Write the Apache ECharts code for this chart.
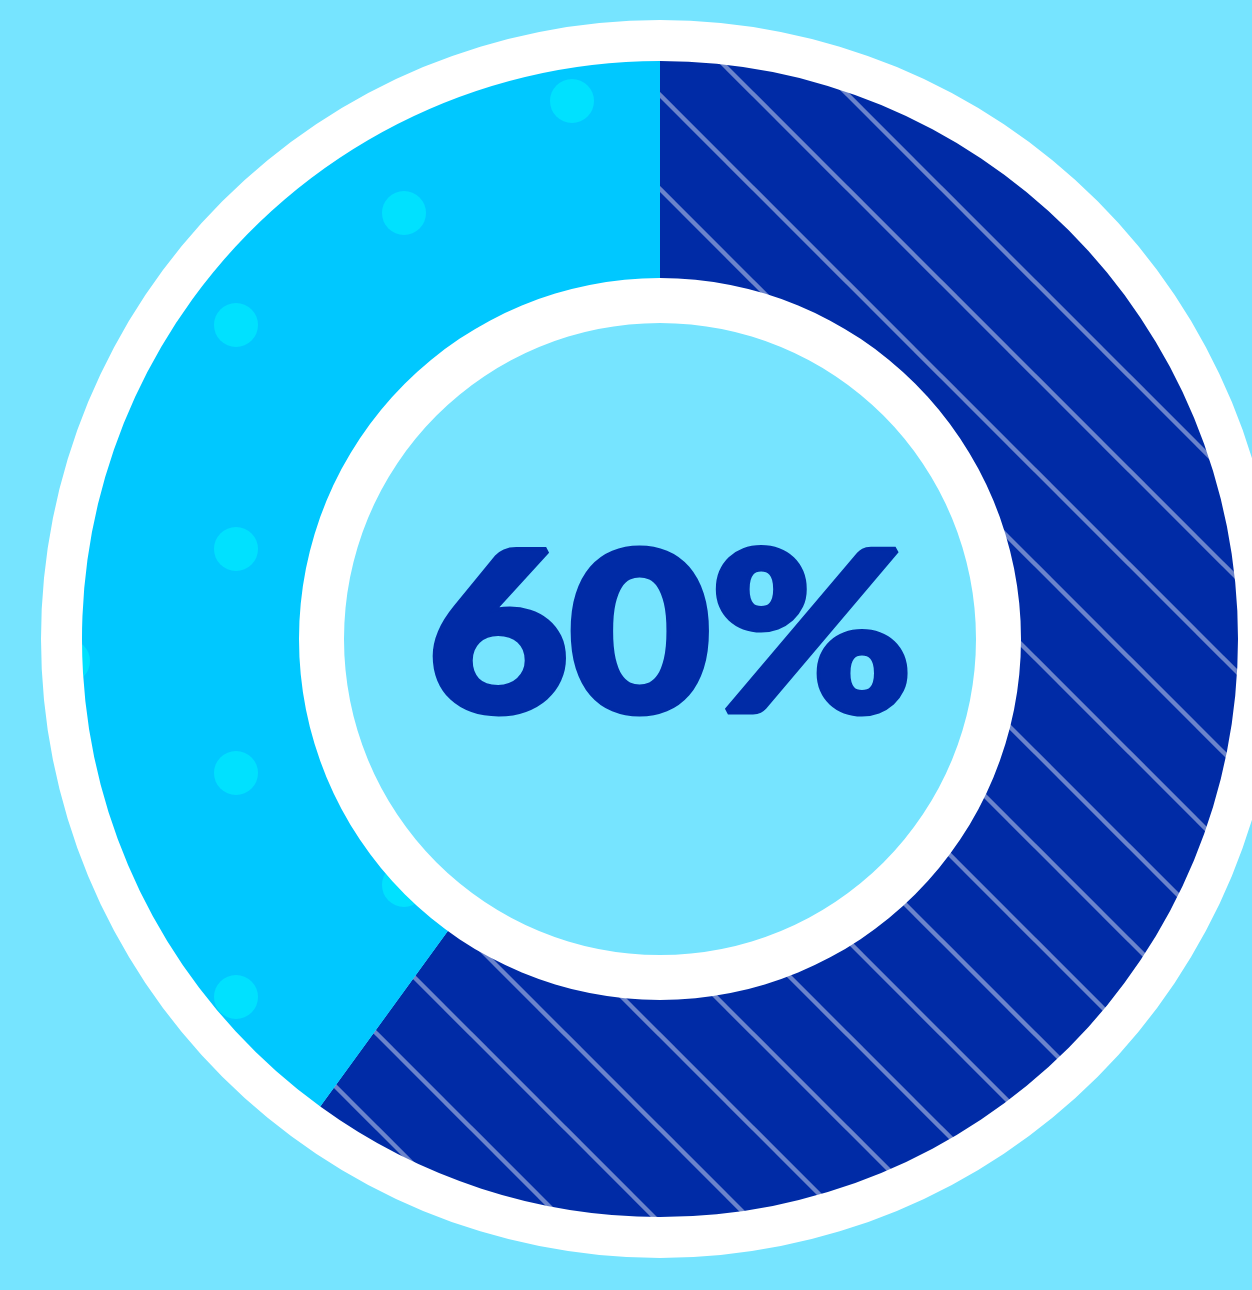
<!DOCTYPE html>
<html>
<head>
<meta charset="utf-8">
<script src="https://cdn.jsdelivr.net/npm/echarts@6/dist/echarts.min.js"></script>
<style>
  html, body { margin: 0; padding: 0; background: #76E4FF; }
  #chart { width: 1252px; height: 1290px; }
</style>
</head>
<body>
<div id="chart"></div>
<script>
// Data
var categories = ['Share', 'Rest'];
var values = [60, 40];
var centerLabel = values[0] + '%';

// Pattern tiles (styles only)
function stripeTile() {
  var s = 94;
  var c = document.createElement('canvas');
  c.width = s; c.height = s;
  var g = c.getContext('2d');
  g.fillStyle = '#002BA6';
  g.fillRect(0, 0, s, s);
  g.strokeStyle = 'rgba(255,255,255,0.42)';
  g.lineWidth = 4.4;
  [-s, 0, s].forEach(function (o) {
    g.beginPath();
    g.moveTo(o - 20, -20);
    g.lineTo(o + s + 20, s + 20);
    g.stroke();
  });
  return c;
}
function dotTile() {
  var w = 336, h = 224, r = 22;
  var c = document.createElement('canvas');
  c.width = w; c.height = h;
  var g = c.getContext('2d');
  g.fillStyle = '#00C8FF';
  g.fillRect(0, 0, w, h);
  g.fillStyle = '#00E1FF';
  [[0,0],[w,0],[0,h],[w,h],[w/2,h/2]].forEach(function (p) {
    g.beginPath();
    g.arc(p[0], p[1], r, 0, Math.PI * 2);
    g.fill();
  });
  return c;
}

var chart = echarts.init(document.getElementById('chart'), null, { renderer: 'canvas' });
var cx = 660, cy = 639;
chart.setOption({
  backgroundColor: '#76E4FF',
  animation: false,
  series: [
    {
      type: 'pie', silent: true, center: [cx, cy], radius: [576, 619],
      label: { show: false }, labelLine: { show: false },
      itemStyle: { color: '#FFFFFF' },
      data: [1]
    },
    {
      type: 'pie', silent: true, center: [cx, cy], radius: [360, 578],
      startAngle: 90, clockwise: true,
      label: { show: false }, labelLine: { show: false },
      data: categories.map(function (n, i) {
        return {
          name: n, value: values[i],
          itemStyle: {
            color: i === 0
              ? { image: stripeTile(), repeat: 'repeat', x: 1, y: 0 }
              : { image: dotTile(), repeat: 'repeat', x: 236, y: 325 }
          }
        };
      })
    },
    {
      type: 'pie', silent: true, center: [cx, cy], radius: [316, 361],
      label: { show: false }, labelLine: { show: false },
      itemStyle: { color: '#FFFFFF' },
      data: [1]
    }
  ],
  graphic: [{
    type: 'text', x: 670, y: 639, scaleX: 1.1, silent: true,
    style: {
      text: centerLabel,
      font: '900 222px Lato',
      fill: '#002BA6',
      stroke: '#002BA6',
      lineWidth: 7,
      lineJoin: 'round',
      align: 'center',
      verticalAlign: 'middle'
    }
  }]
});
</script>
</body>
</html>
